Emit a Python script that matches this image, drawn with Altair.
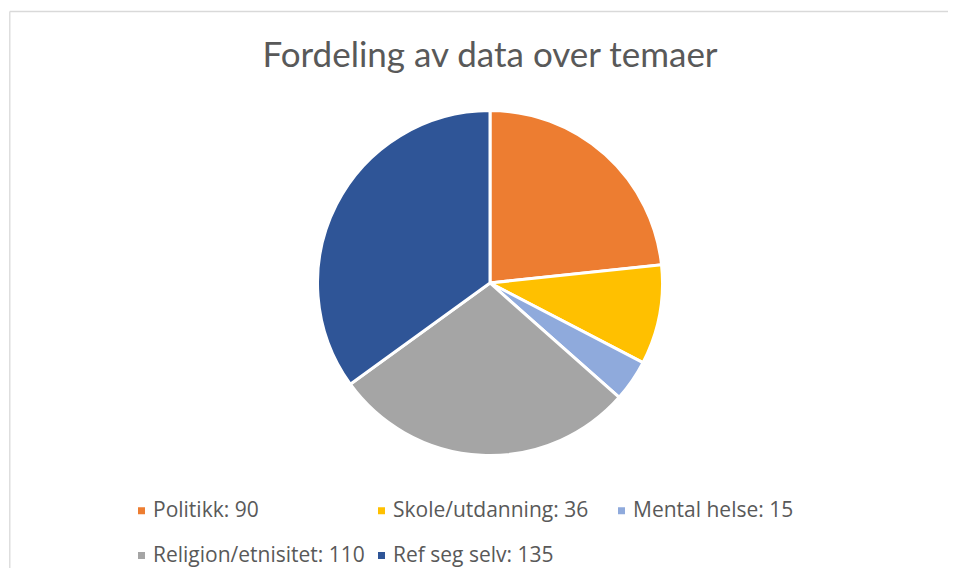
import altair as alt
import pandas as pd

categories = ["Politikk", "Skole/utdanning", "Mental helse", "Religion/etnisitet", "Ref seg selv"]
values = [90, 36, 15, 110, 135]
colors = ["#ED7D31", "#FFC000", "#8FAADC", "#A5A5A5", "#2F5597"]
title_text = "Fordeling av data over temaer"

labels = [f"{c}: {v}" for c, v in zip(categories, values)]
df = pd.DataFrame({"label": labels, "value": values, "order": list(range(len(values)))})

W, H = 940, 560
TITLE_FONT = "Lato"
LABEL_FONT = "Open Sans"

pie = alt.Chart(df).mark_arc(outerRadius=172.5, stroke="white", strokeWidth=3).encode(
    theta=alt.Theta("value:Q", stack=True),
    order=alt.Order("order:Q"),
    color=alt.Color(
        "label:N",
        sort=None,
        scale=alt.Scale(domain=labels, range=colors),
        legend=alt.Legend(
            orient="none", legendX=123, legendY=492, direction="horizontal",
            columns=3, gridAlign="all", columnPadding=6, rowPadding=23,
            symbolType="square", symbolSize=49, symbolStrokeWidth=0,
            labelFont=LABEL_FONT, labelFontSize=21, labelColor="#595959",
            labelLimit=400, labelOffset=1, title=None,
        ),
    ),
    x=alt.value(482),
    y=alt.value(275),
)

blank = alt.Data(values=[{"a": 1}])
title = alt.Chart(blank).mark_text(
    font=TITLE_FONT, fontSize=35, color="#595959", align="center", baseline="alphabetic"
).encode(x=alt.value(482), y=alt.value(59), text=alt.value(title_text))

top_rule = alt.Chart(blank).mark_rule(color="#D9D9D9", strokeWidth=1.3).encode(
    x=alt.value(1.8), x2=alt.value(W), y=alt.value(3.5)
)
left_rule = alt.Chart(blank).mark_rule(color="#D9D9D9", strokeWidth=1.3).encode(
    x=alt.value(1.8), y=alt.value(3.5), y2=alt.value(H)
)

chart = alt.layer(top_rule, left_rule, title, pie).properties(
    width=W, height=H, autosize=alt.AutoSizeParams(type="none"), padding=0
).configure_view(stroke=None)

chart.save("out.html", embed_options={"renderer": "svg", "actions": False})
